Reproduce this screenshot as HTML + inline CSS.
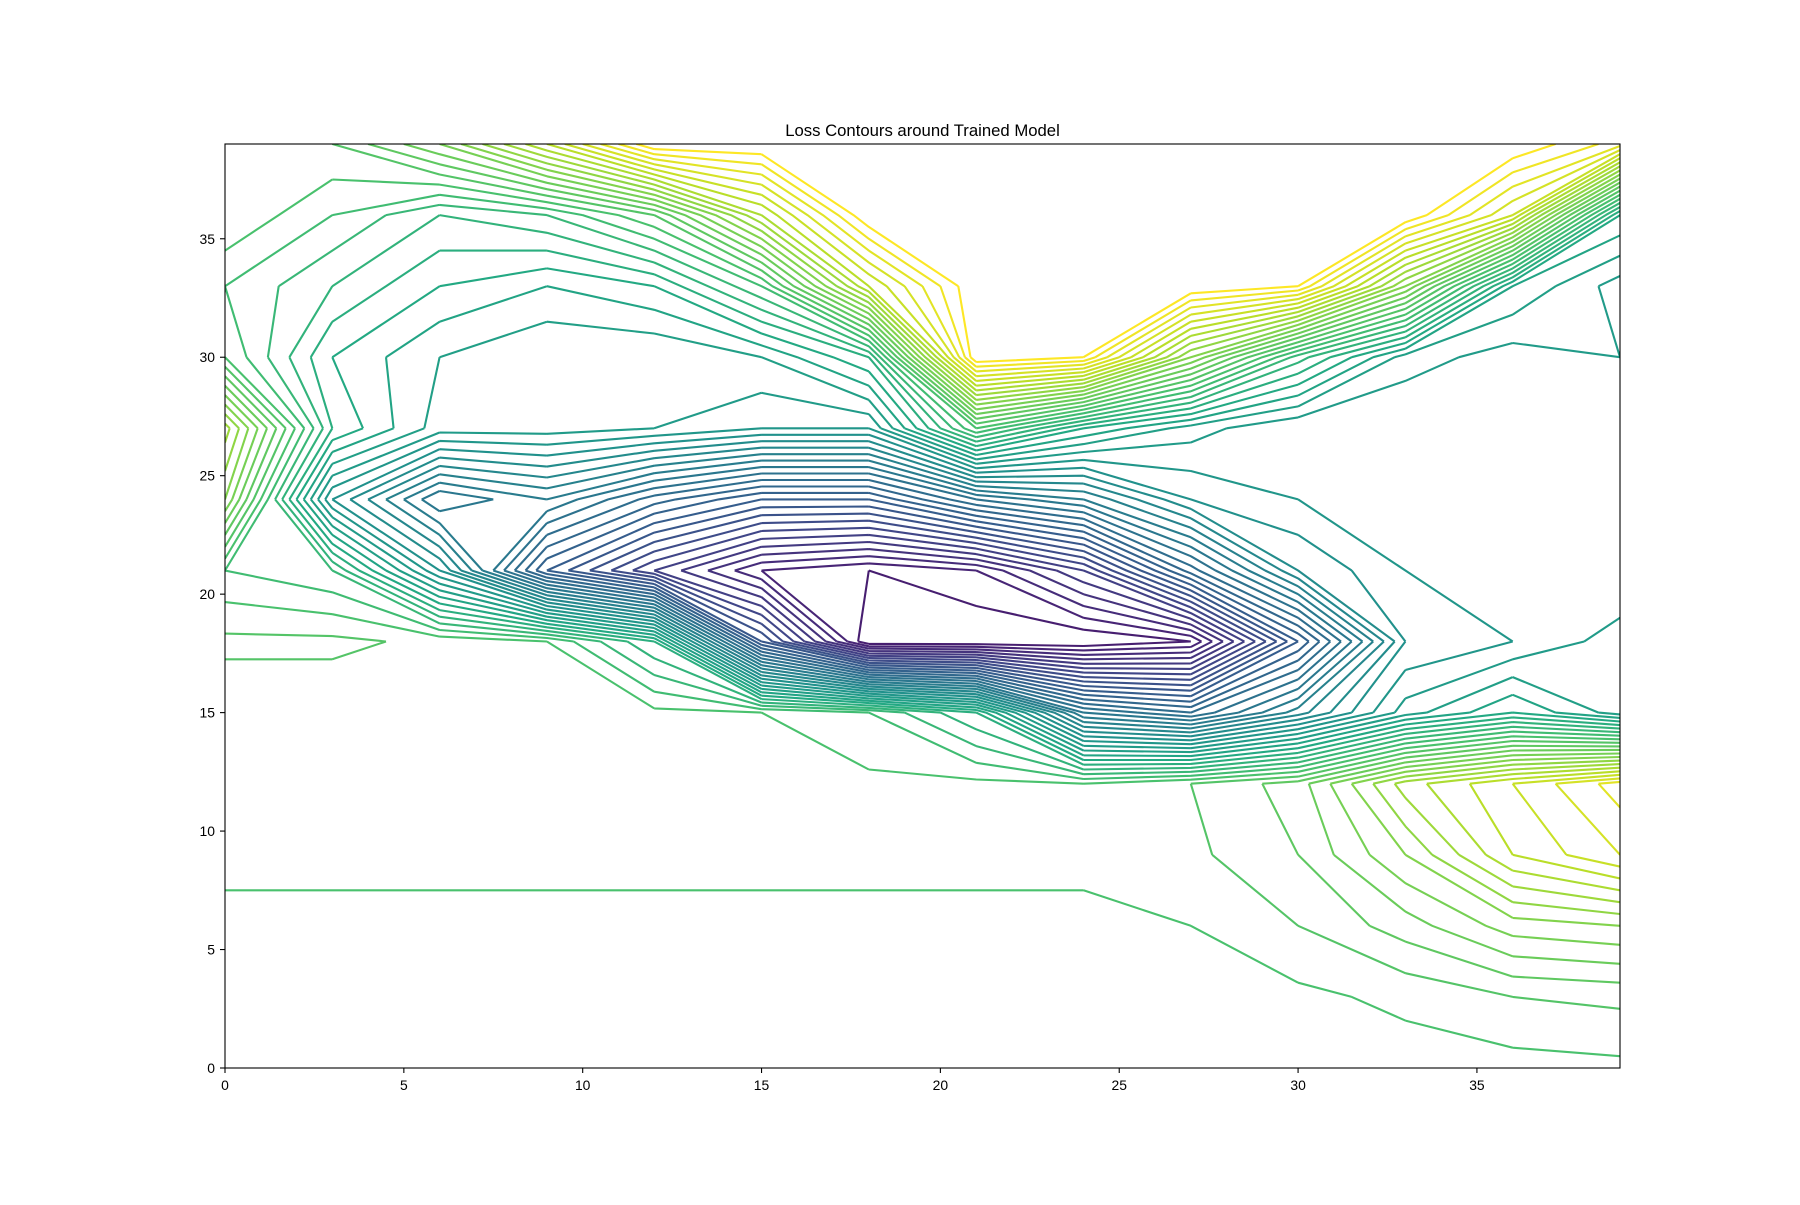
<!DOCTYPE html>
<html><head><meta charset="utf-8"><style>
html,body{margin:0;padding:0;background:#fff;}
svg text{font-family:"Liberation Sans","DejaVu Sans",sans-serif;}
</style></head><body>
<svg id="chart" width="1800" height="1200" viewBox="0 0 1800 1200" xmlns="http://www.w3.org/2000/svg">
<rect width="1800" height="1200" fill="#fff"/>
<defs><clipPath id="clip"><rect x="225" y="144" width="1395" height="924"/></clipPath></defs>
<text x="922.5" y="136" font-size="16.7" text-anchor="middle">Loss Contours around Trained Model</text>
<g id="contours" clip-path="url(#clip)"></g>
<rect x="225" y="144" width="1395" height="924" fill="none" stroke="#000" stroke-width="1.1"/>
<g id="xticks"></g>
<g id="yticks"></g>
</svg>
<script>
// grid coordinates (data units)
const gridX = [0,3,6,9,12,15,18,21,24,27,30,33,36,39];
const gridY = [0,3,6,9,12,15,18,21,24,27,30,33,36,39];
// loss values, rows listed from top (y=39) to bottom (y=0)
const lossRowsTopDown = [
[0.70,0.72,0.78,0.88,1.00,1.00,1.00,1.00,1.00,1.00,1.00,1.00,1.00,0.95],
[0.72,0.68,0.64,0.66,0.72,0.86,1.00,1.00,1.00,1.00,1.00,1.00,0.90,0.60],
[0.68,0.64,0.60,0.58,0.60,0.68,0.88,1.00,1.00,1.00,0.98,0.80,0.58,0.53],
[0.70,0.60,0.56,0.54,0.54,0.56,0.62,1.00,0.98,0.80,0.65,0.55,0.53,0.54],
[0.85,0.62,0.55,0.55,0.54,0.52,0.52,0.70,0.60,0.55,0.52,0.52,0.52,0.52],
[0.80,0.50,0.38,0.42,0.35,0.30,0.30,0.38,0.42,0.50,0.52,0.52,0.52,0.52],
[0.68,0.66,0.50,0.30,0.20,0.12,0.10,0.12,0.20,0.35,0.48,0.52,0.52,0.52],
[0.725,0.725,0.715,0.70,0.62,0.28,0.08,0.08,0.08,0.10,0.30,0.50,0.52,0.55],
[0.705,0.705,0.705,0.705,0.705,0.70,0.68,0.62,0.40,0.36,0.45,0.55,0.60,0.55],
[0.705,0.705,0.705,0.705,0.705,0.705,0.705,0.705,0.70,0.72,0.75,0.85,0.90,0.95],
[0.705,0.705,0.705,0.705,0.705,0.705,0.705,0.705,0.705,0.715,0.74,0.80,0.88,0.92],
[0.695,0.695,0.695,0.695,0.695,0.695,0.695,0.695,0.695,0.70,0.72,0.75,0.79,0.80],
[0.69,0.69,0.69,0.69,0.69,0.69,0.69,0.69,0.69,0.69,0.695,0.705,0.72,0.725],
[0.69,0.69,0.69,0.69,0.69,0.69,0.69,0.69,0.69,0.69,0.69,0.69,0.692,0.695]
];
const levels = [];
for (let k = 1; k <= 49; k++) levels.push(k * 0.02);
const xTicks = [0,5,10,15,20,25,30,35];
const yTicks = [0,5,10,15,20,25,30,35];

const NS = "http://www.w3.org/2000/svg";
const sx = x => 225 + x / 39 * 1395;
const sy = y => 1068 - y / 39 * 924;
const Z = lossRowsTopDown.slice().reverse();

const stops = ["#440154","#482475","#414487","#355f8d","#2a788e","#21918c","#22a884","#44bf70","#7ad151","#bddf26","#fde725"];
function viridis(t){
  t = Math.max(0, Math.min(1, t));
  const p = t * 10, i = Math.min(9, Math.floor(p)), f = p - i;
  const a = stops[i], b = stops[i+1];
  const c = k => Math.round(parseInt(a.substr(k,2),16)*(1-f) + parseInt(b.substr(k,2),16)*f);
  return "rgb(" + c(1) + "," + c(3) + "," + c(5) + ")";
}
const lmin = levels[0], lmax = levels[levels.length-1];
const g = document.getElementById("contours");
levels.forEach((lv, li) => {
  let d = "";
  for (let j = 0; j < gridY.length - 1; j++) {
    for (let i = 0; i < gridX.length - 1; i++) {
      const x0 = gridX[i], x1 = gridX[i+1], y0 = gridY[j], y1 = gridY[j+1];
      const a = Z[j][i], b = Z[j][i+1], c = Z[j+1][i+1], e = Z[j+1][i];
      const pts = {};
      const cross = (va, vb) => (va < lv) !== (vb < lv);
      const t = (va, vb) => (lv - va) / (vb - va);
      if (cross(a,b)) pts.B = [x0 + t(a,b)*(x1-x0), y0];
      if (cross(b,c)) pts.R = [x1, y0 + t(b,c)*(y1-y0)];
      if (cross(e,c)) pts.T = [x0 + t(e,c)*(x1-x0), y1];
      if (cross(a,e)) pts.L = [x0, y0 + t(a,e)*(y1-y0)];
      const keys = Object.keys(pts);
      const seg = (p, q) => { d += "M" + sx(p[0]).toFixed(1) + " " + sy(p[1]).toFixed(1) + "L" + sx(q[0]).toFixed(1) + " " + sy(q[1]).toFixed(1); };
      if (keys.length === 2) seg(pts[keys[0]], pts[keys[1]]);
      else if (keys.length === 4) {
        const ctr = (a + b + c + e) / 4;
        if ((ctr < lv) === (a < lv)) { seg(pts.B, pts.R); seg(pts.T, pts.L); }
        else { seg(pts.B, pts.L); seg(pts.R, pts.T); }
      }
    }
  }
  if (d) {
    const p = document.createElementNS(NS, "path");
    p.setAttribute("d", d);
    p.setAttribute("fill", "none");
    p.setAttribute("stroke", viridis((lv - lmin) / (lmax - lmin)));
    p.setAttribute("stroke-width", "2.1");
    p.setAttribute("stroke-linejoin", "round");
    
    
    g.appendChild(p);
  }
});

const xg = document.getElementById("xticks");
xTicks.forEach(v => {
  const l = document.createElementNS(NS, "line");
  l.setAttribute("x1", sx(v)); l.setAttribute("x2", sx(v));
  l.setAttribute("y1", 1068); l.setAttribute("y2", 1073);
  l.setAttribute("stroke", "#000"); l.setAttribute("stroke-width", "1.1");
  
  
  xg.appendChild(l);
  const tx = document.createElementNS(NS, "text");
  tx.setAttribute("x", sx(v)); tx.setAttribute("y", 1090);
  tx.setAttribute("font-size", "13.9"); tx.setAttribute("text-anchor", "middle");
  tx.textContent = v;
  
  
  xg.appendChild(tx);
});
const yg = document.getElementById("yticks");
yTicks.forEach(v => {
  const l = document.createElementNS(NS, "line");
  l.setAttribute("x1", 220); l.setAttribute("x2", 225);
  l.setAttribute("y1", sy(v)); l.setAttribute("y2", sy(v));
  l.setAttribute("stroke", "#000"); l.setAttribute("stroke-width", "1.1");
  
  
  yg.appendChild(l);
  const tx = document.createElementNS(NS, "text");
  tx.setAttribute("x", 215); tx.setAttribute("y", sy(v) + 5);
  tx.setAttribute("font-size", "13.9"); tx.setAttribute("text-anchor", "end");
  tx.textContent = v;
  
  
  yg.appendChild(tx);
});
</script>
</body></html>
